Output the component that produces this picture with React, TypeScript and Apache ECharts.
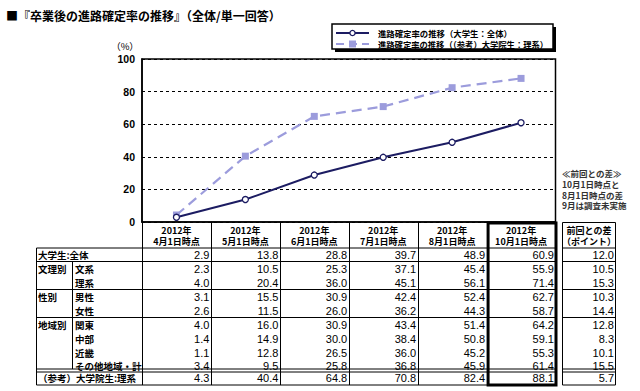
import React, { useEffect, useRef } from 'react';
import * as echarts from 'echarts';

const TITLE = '■『卒業後の進路確定率の推移』（全体/単一回答）';
const YEAR = '2012年';
const timePoints = ['4月1日時点', '5月1日時点', '6月1日時点', '7月1日時点', '8月1日時点', '10月1日時点'];
const seriesNames = ['進路確定率の推移（大学生：全体）', '進路確定率の推移（（参考）大学院生：理系）'];
const yTicks = [0, 20, 40, 60, 80, 100];

const allStudents = [2.9, 13.8, 28.8, 39.7, 48.9, 60.9];
const bunkei = [2.3, 10.5, 25.3, 37.1, 45.4, 55.9];
const rikei = [4.0, 20.4, 36.0, 45.1, 56.1, 71.4];
const male = [3.1, 15.5, 30.9, 42.4, 52.4, 62.7];
const female = [2.6, 11.5, 26.0, 36.2, 44.3, 58.7];
const kanto = [4.0, 16.0, 30.9, 43.4, 51.4, 64.2];
const chubu = [1.4, 14.9, 30.0, 38.4, 50.8, 59.1];
const kinki = [1.1, 12.8, 26.5, 36.0, 45.2, 55.3];
const otherRegions = [3.4, 9.5, 25.8, 36.8, 45.9, 61.4];
const gradRikei = [4.3, 40.4, 64.8, 70.8, 82.4, 88.1];
const diffs = [12.0, 10.5, 15.3, 10.3, 14.4, 12.8, 8.3, 10.1, 15.5, 5.7];

const groupLabels = ['大学生:全体', '文理別', '', '性別', '', '地域別', '', '', '', '（参考）大学院生:理系'];
const subLabels = ['', '文系', '理系', '男性', '女性', '関東', '中部', '近畿', 'その他地域・計', ''];
const rowValues = [allStudents, bunkei, rikei, male, female, kanto, chubu, kinki, otherRegions, gradRikei];
const diffHeader = ['前回との差', '（ポイント）'];
const notes = ['≪前回との差≫', '10月1日時点と', '8月1日時点の差', '9月は調査未実施'];

const JP = '"Noto Sans CJK JP", sans-serif';
const NUM = '"Liberation Sans", Arial, sans-serif';

export default function App() {
  const ref = useRef<HTMLDivElement>(null);
  useEffect(() => {
    document.body.style.margin = '0';
    if (!ref.current) return;
    const chart = echarts.init(ref.current, null, { renderer: 'svg' });

    const GL = 142, GT = 59, GW = 413.5, GH = 163;
    const GB = GT + GH;
    const GR = GL + GW;
    const colW = GW / 6;
    const rowLines = [248, 261.5, 275.5, 289.5, 303.5, 317.5, 331.5, 345.5, 359.5, 370.5, 385];
    const majorLines = [248, 261.5, 289.5, 317.5, 369, 372, 385];
    const TL = 36.5, SUBX = 72.5, DL = 562.5, DR = 615.5;
    const black = '#000';
    const g: any[] = [];
    const hline = (x1: number, x2: number, y: number, w = 1) =>
      g.push({ type: 'line', silent: true, shape: { x1, y1: y, x2, y2: y }, style: { stroke: black, lineWidth: w } });
    const vline = (x: number, y1: number, y2: number, w = 1) =>
      g.push({ type: 'line', silent: true, shape: { x1: x, y1, x2: x, y2 }, style: { stroke: black, lineWidth: w } });
    const text = (x: number, y: number, t: string, opts: any = {}) =>
      g.push({
        type: 'text', silent: true, x, y, z: 10,
        style: { text: t, fill: opts.fill || '#000', font: opts.font || `bold 9.5px ${JP}`, align: opts.align || 'left', verticalAlign: 'middle' },
      });

    const navy = '#1c1c62';
    const lav = '#9c9cdc';

    // title
    text(6, 15, TITLE, { font: `bold 12px ${JP}` });
    // legend box with shadow
    g.push({ type: 'rect', silent: true, z: 1, shape: { x: 335, y: 27, width: 221, height: 25 }, style: { fill: black } });
    g.push({ type: 'rect', silent: true, z: 2, shape: { x: 332, y: 24, width: 221, height: 25 }, style: { fill: '#fff', stroke: black, lineWidth: 1.5 } });
    // (%) label
    text(125, 46, '（%）', { font: `9.5px ${JP}`, align: 'center' });

    // table lines
    majorLines.forEach((y) => { hline(TL, GR, y); hline(DL, DR, y); });
    hline(DL, DR, 222.5);
    vline(TL, 248, 385);
    vline(SUBX, 261.5, 369);
    for (let i = 0; i <= 6; i++) vline(Math.round(GL + i * colW) + 0.5, GB, 385);
    vline(DL, 222.5, 385);
    vline(DR, 222.5, 385);
    // thick October box
    g.push({ type: 'rect', silent: true, shape: { x: GL + 5 * colW + 1.5, y: GB + 1, width: colW - 1, height: 385 - GB - 1 }, style: { fill: 'none', stroke: black, lineWidth: 3 } });

    // row texts
    rowValues.forEach((vals, r) => {
      const yc = (rowLines[r] + rowLines[r + 1]) / 2 + 0.5;
      if (groupLabels[r]) text(38, yc, groupLabels[r]);
      if (subLabels[r]) text(75, yc, subLabels[r]);
      vals.forEach((v, c) => {
        text(GL + (c + 1) * colW - 1.5, yc, v.toFixed(1), { font: `11px ${NUM}`, align: 'right' });
      });
      text(DR - 1.5, yc, diffs[r].toFixed(1), { font: `11px ${NUM}`, align: 'right' });
    });
    text((DL + DR) / 2, 230, diffHeader[0], { align: 'center', font: `bold 9px ${JP}` });
    text((DL + DR) / 2, 241.5, diffHeader[1], { align: 'center', font: `bold 9px ${JP}` });
    notes.forEach((n, i) => text(562, 173 + i * 10.8, n, { font: `bold 8.5px ${JP}`, fill: '#333' }));

    // header texts under the category axis (one per column, two lines)
    timePoints.forEach((t, i) => {
      const cx = GL + (i + 0.5) * colW;
      text(cx, 230, YEAR, { align: 'center', font: `bold 9px ${JP}` });
      text(cx, 241.5, t, { align: 'center', font: `bold 9px ${JP}` });
    });

    // legend (drawn manually for exact layout)
    const legY = [33, 44];
    g.push({ type: 'line', silent: true, z: 5, shape: { x1: 336, y1: legY[0], x2: 369, y2: legY[0] }, style: { stroke: navy, lineWidth: 2 } });
    g.push({ type: 'circle', silent: true, z: 6, shape: { cx: 352.5, cy: legY[0], r: 2.6 }, style: { fill: '#fff', stroke: navy, lineWidth: 1.3 } });
    text(378, legY[0], seriesNames[0], { font: `bold 8.4px ${JP}` });
    g.push({ type: 'line', silent: true, z: 5, shape: { x1: 336, y1: legY[1], x2: 369, y2: legY[1] }, style: { stroke: lav, lineWidth: 2, lineDash: [8, 5] } });
    g.push({ type: 'rect', silent: true, z: 6, shape: { x: 349, y: legY[1] - 3.5, width: 7, height: 7 }, style: { fill: lav } });
    text(378, legY[1], seriesNames[1], { font: `bold 8.3px ${JP}` });

    chart.setOption({
      animation: false,
      grid: { left: GL, top: GT, width: GW, height: GH, show: true, borderColor: black, borderWidth: 1.5, backgroundColor: 'transparent' },
      legend: { show: false, data: [seriesNames[0], seriesNames[1]] },
      xAxis: {
        type: 'category',
        data: timePoints,
        boundaryGap: true,
        axisLine: { show: true, lineStyle: { color: black, width: 1.5 } },
        axisTick: { show: false },
        axisLabel: { show: false },
      },
      yAxis: {
        type: 'value', min: 0, max: 100, interval: 20,
        axisLine: { show: true, lineStyle: { color: black, width: 1.5 } },
        axisTick: { show: false },
        axisLabel: { color: '#000', fontFamily: NUM, fontSize: 10.5, fontWeight: 'bold', margin: 7, formatter: (v: number) => (yTicks.includes(v) ? String(v) : '') },
        splitLine: { show: true, lineStyle: { color: black, type: [3, 3], width: 1 } },
      },
      series: [
        {
          name: seriesNames[1], type: 'line', data: gradRikei, symbol: 'rect', symbolSize: 7,
          lineStyle: { color: lav, width: 2.2, type: [10, 6] },
          itemStyle: { color: lav },
        },
        {
          name: seriesNames[0], type: 'line', data: allStudents, symbol: 'circle', symbolSize: 6,
          lineStyle: { color: navy, width: 2 },
          itemStyle: { color: '#fff', borderColor: navy, borderWidth: 1.3 },
        },
      ],
      graphic: { elements: g },
    });
    return () => chart.dispose();
  }, []);
  return <div ref={ref} style={{ width: 640, height: 391 }} />;
}
